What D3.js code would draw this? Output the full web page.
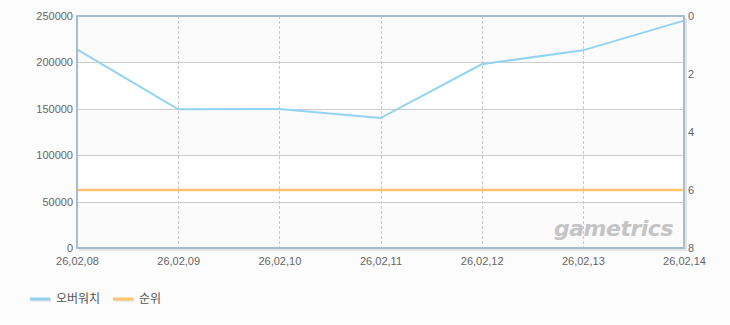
<!DOCTYPE html>
<html><head><meta charset="utf-8">
<script src="https://cdn.jsdelivr.net/npm/d3@7"></script>
<style>body{margin:0;background:#fcfcfc;}svg{display:block;}</style>
</head><body>
<svg id="c" width="730" height="325"></svg>
<script>
const categories = ["26,02,08","26,02,09","26,02,10","26,02,11","26,02,12","26,02,13","26,02,14"];
const seriesNames = ["오버워치","순위"];
const users = [214000,149500,149800,140000,198000,213000,245000];
const rank = [6,6,6,6,6,6,6];
const leftTicks = [0,50000,100000,150000,200000,250000];
const rightTicks = [0,2,4,6,8];
const colors = ["#92d3f2","#ffc46b"];

const svg = d3.select("#c");
const L=77, R=684, T=16, B=248;
const x = d3.scalePoint().domain(categories).range([L,R]);
const y = d3.scaleLinear().domain([0,250000]).range([B,T]);
const y2 = d3.scaleLinear().domain([0,8]).range([T,B]);
const font = "'Liberation Sans', Arial, sans-serif";

// shadow
svg.append("rect").attr("x",L+2).attr("y",T+2).attr("width",R-L+1).attr("height",B-T+1).attr("fill","#e4e4e4");
svg.append("rect").attr("x",L).attr("y",T).attr("width",R-L).attr("height",B-T).attr("fill","#fff");
// bands
for(let i=0;i<leftTicks.length-1;i+=2){
  svg.append("rect").attr("x",L).attr("width",R-L)
    .attr("y",y(leftTicks[i+1])).attr("height",y(leftTicks[i])-y(leftTicks[i+1])).attr("fill","#fbfbfb");
}
// horizontal grid
svg.append("g").selectAll("line").data(leftTicks).join("line")
  .attr("x1",L).attr("x2",R).attr("y1",d=>Math.round(y(d))+0.5).attr("y2",d=>Math.round(y(d))+0.5)
  .attr("stroke","#cccccc").attr("stroke-width",1);
// vertical dashed grid
svg.append("g").selectAll("line").data(categories.slice(1,-1)).join("line")
  .attr("x1",d=>Math.round(x(d))+0.5).attr("x2",d=>Math.round(x(d))+0.5).attr("y1",T).attr("y2",B)
  .attr("stroke","#c8c8c8").attr("stroke-dasharray","3,2");

// watermark
svg.append("text").attr("x",673).attr("y",236).attr("text-anchor","end")
  .attr("font-family","'DejaVu Sans', sans-serif").attr("font-weight","bold").attr("font-style","italic")
  .attr("font-size",22).attr("fill","#c4c4c4").attr("letter-spacing","-0.5").text("gametrics");

// lines
const line = d3.line().x((d,i)=>x(categories[i]));
svg.append("path").datum(rank).attr("d",line.y(d=>y2(d))).attr("fill","none")
  .attr("stroke",colors[1]).attr("stroke-width",2.5);
svg.append("path").datum(users).attr("d",d3.line().x((d,i)=>x(categories[i])).y(d=>y(d))).attr("fill","none")
  .attr("stroke",colors[0]).attr("stroke-width",2);

// axes
const ax = svg.append("g").attr("transform",`translate(${L},0)`).call(d3.axisLeft(y).tickValues(leftTicks).tickSize(0).tickPadding(4).tickFormat(d3.format("d")));
const ax2 = svg.append("g").attr("transform",`translate(${R},0)`).call(d3.axisRight(y2).tickValues(rightTicks).tickSize(0).tickPadding(4));
const ax3 = svg.append("g").attr("transform",`translate(0,${B})`).call(d3.axisBottom(x).tickSize(0).tickPadding(9));
[ax,ax2,ax3].forEach(a=>{a.select(".domain").remove();a.selectAll("text").attr("font-family",font).attr("font-size",11).attr("fill","#666");});

// frame
svg.append("rect").attr("x",L).attr("y",T).attr("width",R-L).attr("height",B-T).attr("fill","none")
  .attr("stroke","#a8bccf").attr("stroke-width",2);

// legend
const lg = svg.append("g");
const lx=[30,113];
seriesNames.forEach((n,i)=>{
  lg.append("line").attr("x1",lx[i]+1).attr("x2",lx[i]+21).attr("y1",300).attr("y2",300).attr("stroke","#ddd").attr("stroke-width",3);
  lg.append("line").attr("x1",lx[i]).attr("x2",lx[i]+20).attr("y1",299).attr("y2",299).attr("stroke",colors[i]).attr("stroke-width",3);
  lg.append("text").attr("x",lx[i]+26).attr("y",303).attr("font-family","'Noto Sans CJK KR', sans-serif")
    .attr("font-size",12).attr("fill","#555").text(n);
});
</script>
</body></html>
